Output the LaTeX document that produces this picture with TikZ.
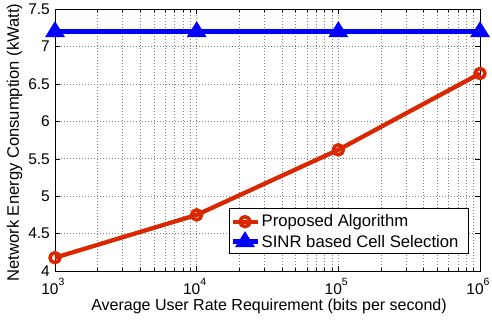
\documentclass[tikz,border=0pt]{standalone}
\usepackage{fontspec}
\setmainfont{Liberation Sans}
\definecolor{myred}{RGB}{217,40,0}
\definecolor{myblue}{RGB}{0,0,255}
\definecolor{gridgray}{RGB}{130,130,130}
\tikzset{
  gridline/.style={gridgray, line width=0.6pt, dash pattern=on 1pt off 2pt},
  axisline/.style={black, line width=0.8pt},
  redline/.style={myred, line width=4.3pt, line join=round},
  blueline/.style={myblue, line width=5.5pt},
  ticklab/.style={font=\fontsize{15.5}{17}\selectfont, inner sep=0pt},
  biglab/.style={font=\fontsize{16}{18}\selectfont, inner sep=0pt},
  leglab/.style={font=\fontsize{16.7}{18}\selectfont, inner sep=0pt},
  ylab/.style={font=\fontsize{16.6}{18}\selectfont, inner sep=0pt},
}
\newcommand{\bluetri}[1]{\fill[myblue, line join=miter] ($(#1)+(-10pt,-5.5pt)$) -- ($(#1)+(10pt,-5.5pt)$) -- ($(#1)+(0,10.5pt)$) -- cycle;}
\usetikzlibrary{calc}
\begin{document}
\begin{tikzpicture}[x=1pt,y=1pt]
\useasboundingbox (0,0) rectangle (492,320);
\begin{scope}[shift={(55pt,49pt)}, x=141.67pt, y=74.8pt]
  % grid
  \foreach \d in {0,1,2}{
    \foreach \k in {2,...,9}{
      \pgfmathsetmacro{\xx}{\d+log10(\k)}
      \draw[gridline] (\xx,0) -- (\xx,3.5);
      \draw[axisline, line width=0.5pt] (\xx,0) -- ++(0,3pt);
      \draw[axisline, line width=0.5pt] (\xx,3.5) -- ++(0,-3pt);
    }
  }
  \foreach \d in {1,2}{
    \draw[gridline] (\d,0) -- (\d,3.5);
  }
  \foreach \v in {0.5,1,...,3}{
    \draw[gridline] (0,\v) -- (3,\v);
  }
  % ticks
  \foreach \d in {0,...,3}{
    \draw[axisline, line width=0.5pt] (\d,0) -- ++(0,5pt);
    \draw[axisline, line width=0.5pt] (\d,3.5) -- ++(0,-5pt);
  }
  \foreach \v in {0,0.5,...,3.5}{
    \draw[axisline, line width=0.5pt] (0,\v) -- ++(5pt,0);
    \draw[axisline, line width=0.5pt] (3,\v) -- ++(-5pt,0);
  }
  % axes box
  \coordinate (ll) at (0,0);
  \coordinate (ur) at (3,3.5);
  \draw[axisline] (ll) rectangle (ur);
  % tick labels
  \foreach \v/\t in {0/4,0.5/4.5,1/5,1.5/5.5,2/6,2.5/6.5,3/7,3.5/7.5}{
    \node[ticklab, anchor=east] at ($(0,\v)+(-5pt,0)$) {\t};
  }
  \foreach \d/\e in {0/3,1/4,2/5,3/6}{
    \node[ticklab, anchor=base] at ($(\d,0)+(-5pt,-24pt)$) {10\rlap{\raisebox{9.3pt}{\fontsize{10.5}{12}\selectfont\e}}};
  }
  % data
  \coordinate (r1) at (0,0.178);
  \coordinate (r2) at (1,0.75);
  \coordinate (r3) at (2,1.62);
  \coordinate (r4) at (3,2.64);
  \coordinate (b1) at (0,3.2);
  \coordinate (b2) at (1,3.2);
  \coordinate (b3) at (2,3.2);
  \coordinate (b4) at (3,3.2);
  \draw[blueline] (b1) -- (b2) -- (b3) -- (b4);
  \foreach \p in {b1,b2,b3,b4}{ \bluetri{\p} }
  \draw[redline] (r1) -- (r2) -- (r3) -- (r4);
  \foreach \p in {r1,r2,r3,r4}{ \draw[redline, line width=3.6pt] (\p) circle (5pt); }
\end{scope}
% axis labels
\node[biglab, anchor=base] (xlab) at (269,9.3) {Average User Rate Requirement (bits per second)};
\node[ylab, rotate=90, anchor=center] (ylab) at (14.5,177.5) {Network Energy Consumption (kWatt)};
% legend
\node[draw, line width=0.8pt, fill=white, anchor=south west, minimum width=238.5pt, minimum height=45pt, inner sep=0pt] (legend) at (229,66) {};
\coordinate (l1a) at (233,98.3);
\coordinate (l1b) at (258,98.3);
\coordinate (l1m) at (245,98.3);
\coordinate (l2a) at (233,78.3);
\coordinate (l2b) at (258,78.3);
\coordinate (l2m) at (245,78.3);
\draw[redline] (l1a) -- (l1b);
\draw[redline, line width=3.6pt] (l1m) circle (5pt);
\draw[blueline] (l2a) -- (l2b);
\bluetri{l2m}
\node[leglab, anchor=west] (t1) at (261.5,98.3) {Proposed Algorithm};
\node[leglab, anchor=west] (t2) at (261.5,78.3) {SINR based Cell Selection};
\end{tikzpicture}
\end{document}
